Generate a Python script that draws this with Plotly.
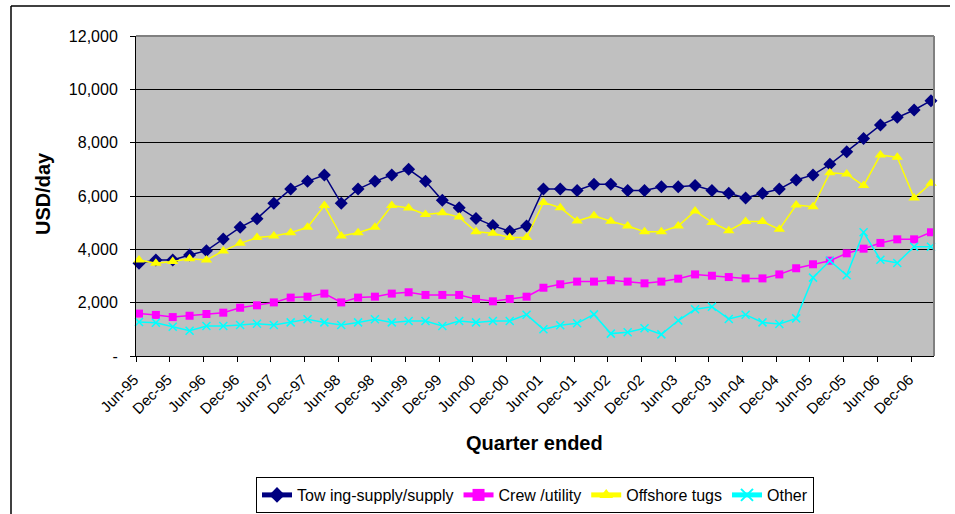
import plotly.graph_objects as go

# Quarter index 0 = Jun-95 ... 47 = Mar-07
quarters = list(range(48))
tick_labels = ["Jun-95", "Dec-95", "Jun-96", "Dec-96", "Jun-97", "Dec-97", "Jun-98", "Dec-98",
               "Jun-99", "Dec-99", "Jun-00", "Dec-00", "Jun-01", "Dec-01", "Jun-02", "Dec-02",
               "Jun-03", "Dec-03", "Jun-04", "Dec-04", "Jun-05", "Dec-05", "Jun-06", "Dec-06"]
tick_positions = quarters[::2]

towing = [3475, 3600, 3600, 3790, 3950, 4390, 4825, 5150, 5725, 6260, 6550, 6790,
          5725, 6260, 6550, 6790, 7000, 6550, 5840, 5560, 5160, 4890, 4675, 4875,
          6260, 6260, 6210, 6440, 6440, 6210, 6210, 6350, 6350, 6390, 6210, 6100,
          5925, 6100, 6260, 6600, 6790, 7190, 7660, 8160, 8660, 8950, 9225, 9575]
crew = [1590, 1540, 1460, 1510, 1575, 1625, 1810, 1900, 2010, 2190, 2225, 2340,
        2010, 2190, 2225, 2340, 2390, 2290, 2290, 2290, 2140, 2050, 2140, 2225,
        2560, 2690, 2790, 2790, 2840, 2790, 2725, 2790, 2900, 3060, 3010, 2960,
        2910, 2910, 3060, 3290, 3440, 3575, 3850, 4025, 4240, 4375, 4375, 4640]
tugs = [3600, 3475, 3540, 3650, 3600, 3940, 4225, 4440, 4500, 4625, 4825, 5640,
        4500, 4625, 4825, 5640, 5550, 5310, 5375, 5210, 4660, 4600, 4440, 4440,
        5760, 5560, 5060, 5260, 5050, 4875, 4660, 4660, 4875, 5440, 5010, 4700,
        5040, 5040, 4750, 5660, 5600, 6875, 6825, 6390, 7540, 7450, 5925, 6475]
other = [1275, 1250, 1100, 950, 1125, 1125, 1160, 1210, 1160, 1260, 1375, 1260,
         1160, 1260, 1375, 1260, 1310, 1310, 1125, 1310, 1260, 1310, 1310, 1550,
         1000, 1150, 1225, 1560, 840, 890, 1040, 810, 1330, 1750, 1850, 1390,
         1550, 1260, 1200, 1410, 2940, 3575, 3025, 4640, 3610, 3490, 4100, 4100]

y_ticks = [0, 2000, 4000, 6000, 8000, 10000, 12000]
y_tick_text = ["-", "2,000", "4,000", "6,000", "8,000", "10,000", "12,000"]

series = [
    ("Tow ing-supply/supply", towing, "#000080", "diamond", 10),
    ("Crew /utility", crew, "#FF00FF", "square", 8),
    ("Offshore tugs", tugs, "#FFFF00", "triangle-up", 10),
    ("Other", other, "#00FFFF", "x-thin", 8),
]

fig = go.Figure()
for name, vals, color, sym, size in series:
    marker = dict(symbol=sym, size=size, color=color)
    if sym == "x-thin":
        marker["line"] = dict(color=color, width=1.5)
    fig.add_trace(go.Scatter(
        x=quarters, y=vals, name=name, mode="lines+markers",
        line=dict(color=color, width=1.5), marker=marker, cliponaxis=False))

font = "Liberation Sans, Arial, sans-serif"
L, R, T, B = 136, 21, 36, 158
pw, ph = 955 - L - R, 514 - T - B


def px_x(x):
    return (x - L) / pw


def px_y(y):
    return (514 - B - y) / ph


# Excel draws the category tick marks slightly left of the data points
tick_offset = 0.18

fig.update_layout(
    width=955, height=514,
    margin=dict(l=L, r=R, t=T, b=B, autoexpand=False),
    paper_bgcolor="white", plot_bgcolor="#C0C0C0",
    font=dict(family=font, size=14, color="black"),
    showlegend=True,
    legend=dict(orientation="h", x=px_x(535), xanchor="center", y=px_y(495), yanchor="middle",
                bordercolor="black", borderwidth=1, bgcolor="white",
                font=dict(family=font, size=16), tracegroupgap=0, itemsizing="constant"),
    xaxis=dict(range=[-0.18, 47.18], tickmode="array",
               tickvals=[p - tick_offset for p in tick_positions],
               ticktext=tick_labels, tickangle=-45, ticks="outside", ticklen=5,
               tickcolor="black", showgrid=False, zeroline=False, showline=True,
               linecolor="black", linewidth=1, tickfont=dict(size=15),
               ticklabelshift=-2, ticklabelstandoff=3, automargin=False),
    yaxis=dict(range=[0, 12000], tickmode="array", tickvals=y_ticks, ticktext=y_tick_text,
               ticks="outside", ticklen=5, tickcolor="black", showgrid=True,
               gridcolor="black", gridwidth=1, zeroline=False, showline=True,
               linecolor="black", linewidth=1, tickfont=dict(size=16),
               ticklabelstandoff=9, automargin=False),
    annotations=[
        dict(text="<b>USD/day</b>", x=px_x(43), y=px_y(194), xref="paper", yref="paper",
             xanchor="center", yanchor="middle", showarrow=False, textangle=-90,
             font=dict(size=20)),
        dict(text="<b>Quarter ended</b>", x=px_x(534), y=px_y(443), xref="paper", yref="paper",
             xanchor="center", yanchor="middle", showarrow=False, font=dict(size=20)),
    ],
)

# plot-area gray top/right border and outer chart border
fig.add_shape(type="line", xref="paper", yref="paper", x0=0, x1=1, y0=1, y1=1,
              line=dict(color="#808080", width=2))
fig.add_shape(type="line", xref="paper", yref="paper", x0=1, x1=1, y0=0, y1=1,
              line=dict(color="#808080", width=2))
fig.add_shape(type="line", xref="paper", yref="paper",
              x0=px_x(11), x1=px_x(950), y0=px_y(6), y1=px_y(6),
              line=dict(color="black", width=1.5))
fig.add_shape(type="line", xref="paper", yref="paper",
              x0=px_x(11), x1=px_x(11), y0=px_y(6), y1=px_y(520),
              line=dict(color="black", width=1.5))

fig.write_html("out.html")
